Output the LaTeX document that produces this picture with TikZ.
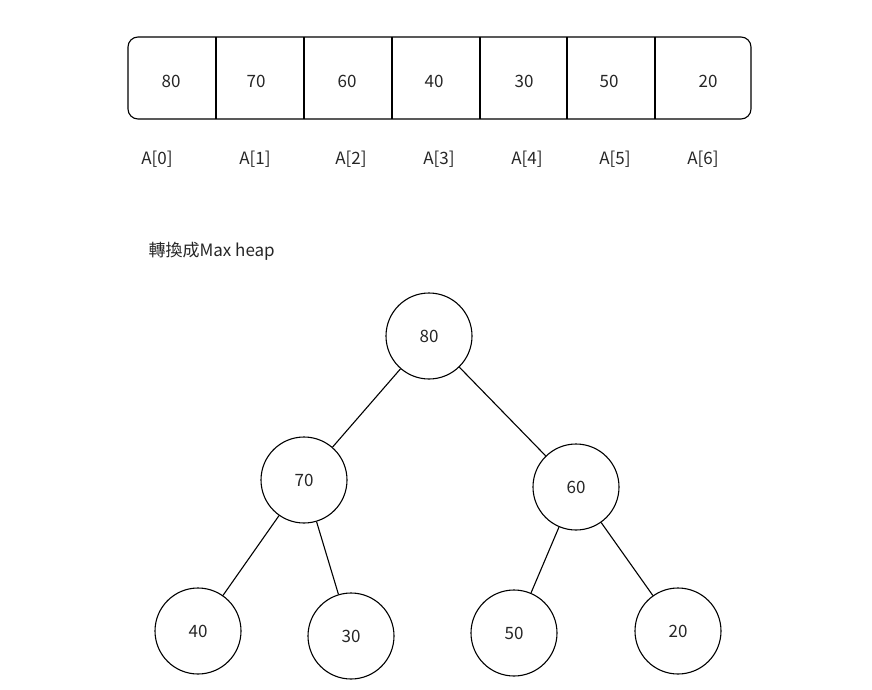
\documentclass[tikz,border=0pt]{standalone}
\usepackage{fontspec}
\setmainfont{Noto Sans CJK SC}
\begin{document}
\begin{tikzpicture}[x=1pt,y=-1pt,
  every node/.style={font=\fontsize{17}{20}\selectfont, text=black!85},
  heap/.style={circle, draw, line width=1.1pt, minimum size=86pt, inner sep=0pt},
  edge/.style={line width=1.1pt}]
\useasboundingbox (0,0) rectangle (872,690);
\draw[line width=1.1pt, rounded corners=10pt] (128,37) rectangle (751,119);
\foreach \x in {216,304,392,480,567,655} \draw[line width=1.1pt] (\x,37) -- (\x,119);
\foreach \v/\x in {80/171,70/256,60/347,40/434,30/524,50/609,20/708}
  \node (c\v) at (\x,81) {\v};
\foreach \i/\x in {0/157,1/255,2/351,3/439,4/527,5/615,6/703}
  \node (i\i) at (\x,159) {A[\i]};
\node[anchor=west] (title) at (145,251) {轉換成Max heap};
\node[heap] (n80) at (429,336) {80};
\node[heap] (n70) at (304,480) {70};
\node[heap] (n60) at (576,487) {60};
\node[heap] (n40) at (198,631) {40};
\node[heap] (n30) at (351,636) {30};
\node[heap] (n50) at (514,633) {50};
\node[heap] (n20) at (678,631) {20};
\draw[edge] (n80) -- (n70);
\draw[edge] (n80) -- (n60);
\draw[edge] (n70) -- (n40);
\draw[edge] (n70) -- (n30);
\draw[edge] (n60) -- (n50);
\draw[edge] (n60) -- (n20);
\end{tikzpicture}
\end{document}
